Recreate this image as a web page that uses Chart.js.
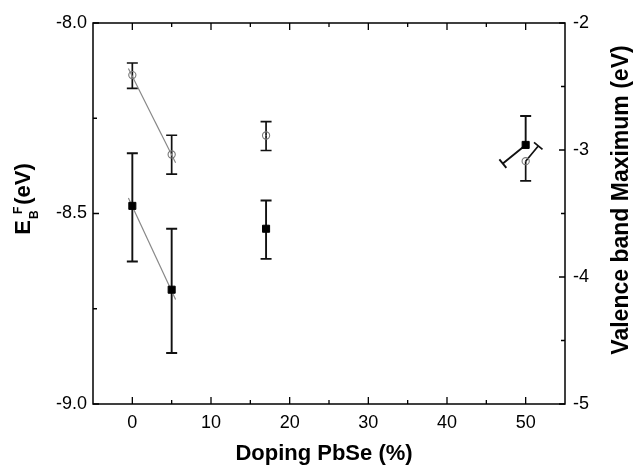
<!DOCTYPE html>
<html>
<head>
<meta charset="utf-8">
<script src="https://cdn.jsdelivr.net/npm/chart.js@4.4.1/dist/chart.umd.min.js"></script>
<style>
  html, body { margin: 0; padding: 0; background: #fff; }
  #wrap { width: 635px; height: 465px; position: relative; }
</style>
</head>
<body>
<div id="wrap"><canvas id="chart"></canvas></div>
<script>
// --- data ---
const doping = [0, 5, 17, 50];

// filled squares: E_B^F (left axis)
const ebf = [-8.48, -8.70, -8.54, -8.32];
const ebfErrHi = [-8.342, -8.54, -8.466, -8.244];
const ebfErrLo = [-8.626, -8.866, -8.619, -8.369];
const ebfErrLoX = [0, 5, 17, 47.1]; // the last lower bar is tilted in the original

// open circles: valence band maximum (right axis)
const vbm = [-2.41, -3.035, -2.886, -3.088];
const vbmErrHi = [-2.315, -2.884, -2.776, -2.968];
const vbmErrHiX = [0, 5, 17, 51.6]; // tilted upper bar at 50 %
const vbmErrLo = [-2.514, -3.19, -3.004, -3.243];

// thin grey guide lines
const ebfFitX = [-0.5, 5.5];
const ebfFitY = [-8.459, -8.726];
const vbmFitX = [-0.5, 5.5];
const vbmFitY = [-2.359, -3.101];

// ticks
const xTicks = [0, 10, 20, 30, 40, 50];
const xMinor = [5, 15, 25, 35, 45];
const yTicks = [-9, -8.5, -8];
const yMinor = [-8.75, -8.25];
const y2Ticks = [-5, -4, -3, -2];
const y2Minor = [-4.5, -3.5, -2.5];

const FONT = '"Liberation Sans", Arial, Helvetica, sans-serif';

const toPoints = (xs, ys) => xs.map((x, i) => ({ x: x, y: ys[i] }));

// --- error bars (drawn under the markers) ---
const errorBars = {
  id: 'errorBars',
  beforeDatasetsDraw(chart) {
    const { ctx, scales } = chart;
    const xs = scales.x;
    const drawBar = (ys, x0, y0, x1, y1, width) => {
      const ax = xs.getPixelForValue(x0), ay = ys.getPixelForValue(y0);
      const bx = xs.getPixelForValue(x1), by = ys.getPixelForValue(y1);
      const len = Math.hypot(bx - ax, by - ay) || 1;
      const nx = -(by - ay) / len * 5.5, ny = (bx - ax) / len * 5.5;
      ctx.lineWidth = width;
      ctx.beginPath();
      ctx.moveTo(ax, ay);
      ctx.lineTo(bx, by);
      ctx.moveTo(bx - nx, by - ny);
      ctx.lineTo(bx + nx, by + ny);
      ctx.stroke();
    };
    ctx.save();
    ctx.strokeStyle = '#111';
    doping.forEach((d, i) => {
      drawBar(scales.y, d, ebf[i], d, ebfErrHi[i], 1.9);
      drawBar(scales.y, d, ebf[i], ebfErrLoX[i], ebfErrLo[i], 1.9);
      drawBar(scales.y2, d, vbm[i], vbmErrHiX[i], vbmErrHi[i], 1.7);
      drawBar(scales.y2, d, vbm[i], d, vbmErrLo[i], 1.7);
    });
    ctx.restore();
  }
};

// --- frame, inward ticks and axis titles ---
const frame = {
  id: 'frame',
  afterDraw(chart) {
    const { ctx, chartArea: a, scales } = chart;
    ctx.save();
    ctx.strokeStyle = '#000';
    ctx.lineWidth = 1.5;
    ctx.strokeRect(a.left, a.top, a.right - a.left, a.bottom - a.top);

    ctx.lineWidth = 1.3;
    ctx.beginPath();
    const vTicks = (vals, len) => vals.forEach(v => {
      const px = scales.x.getPixelForValue(v);
      ctx.moveTo(px, a.bottom); ctx.lineTo(px, a.bottom - len);
      ctx.moveTo(px, a.top); ctx.lineTo(px, a.top + len);
    });
    vTicks(xTicks, 7);
    vTicks(xMinor, 4);
    const lTicks = (vals, len) => vals.forEach(v => {
      const py = scales.y.getPixelForValue(v);
      ctx.moveTo(a.left, py); ctx.lineTo(a.left + len, py);
    });
    lTicks(yTicks, 6);
    lTicks(yMinor, 4);
    const rTicks = (vals, len) => vals.forEach(v => {
      const py = scales.y2.getPixelForValue(v);
      ctx.moveTo(a.right, py); ctx.lineTo(a.right - len, py);
    });
    rTicks(y2Ticks, 6);
    rTicks(y2Minor, 4);
    ctx.stroke();

    ctx.fillStyle = '#000';
    // x title
    ctx.font = 'bold 22px ' + FONT;
    ctx.textAlign = 'center';
    ctx.textBaseline = 'alphabetic';
    ctx.fillText('Doping PbSe (%)', (a.left + a.right) / 2 - 5, 460);

    // right title
    ctx.save();
    ctx.translate(628, 200);
    ctx.rotate(-Math.PI / 2);
    ctx.font = 'bold 23px ' + FONT;
    ctx.fillText('Valence band Maximum (eV)', 0, 0);
    ctx.restore();

    // left title: E_B^F(eV)
    ctx.save();
    ctx.translate(30, 199);
    ctx.rotate(-Math.PI / 2);
    ctx.textAlign = 'left';
    ctx.font = 'bold 22px ' + FONT;
    const wE = ctx.measureText('E').width;
    const wP = ctx.measureText('(eV)').width;
    ctx.font = 'bold 12px ' + FONT;
    const wB = ctx.measureText('B').width;
    const wF = ctx.measureText('F').width;
    const wS = Math.max(wB + 1, wF + 6) + 2;
    const start = -(wE + wS + wP) / 2;
    ctx.font = 'bold 22px ' + FONT;
    ctx.fillText('E', start, 0);
    ctx.fillText('(eV)', start + wE + wS, 0);
    ctx.font = 'bold 12px ' + FONT;
    ctx.fillText('B', start + wE + 1, 8);
    ctx.fillText('F', start + wE + 6, -8);
    ctx.restore();

    ctx.restore();
  }
};

const tickFont = { family: FONT, size: 18 };

new Chart(document.getElementById('chart'), {
  type: 'scatter',
  data: {
    datasets: [
      {
        label: 'E_B^F',
        data: toPoints(doping, ebf),
        yAxisID: 'y',
        pointStyle: 'rect',
        pointRadius: 5,
        pointBackgroundColor: '#000',
        pointBorderColor: '#000',
        pointBorderWidth: 1,
        showLine: false
      },
      {
        label: 'VBM',
        data: toPoints(doping, vbm),
        yAxisID: 'y2',
        pointStyle: 'circle',
        pointRadius: 3.6,
        pointBackgroundColor: 'rgba(255,255,255,0)',
        pointBorderColor: '#777',
        pointBorderWidth: 1.1,
        showLine: false
      },
      {
        label: 'E_B^F guide',
        data: toPoints(ebfFitX, ebfFitY),
        yAxisID: 'y',
        showLine: true,
        borderColor: '#888',
        borderWidth: 1.2,
        pointRadius: 0
      },
      {
        label: 'VBM guide',
        data: toPoints(vbmFitX, vbmFitY),
        yAxisID: 'y2',
        showLine: true,
        borderColor: '#888',
        borderWidth: 1.2,
        pointRadius: 0
      }
    ]
  },
  options: {
    responsive: true,
    maintainAspectRatio: false,
    animation: false,
    layout: { padding: { top: 23, left: 0, right: 0, bottom: 0 } },
    plugins: {
      legend: { display: false },
      tooltip: { enabled: false }
    },
    scales: {
      x: {
        type: 'linear',
        position: 'bottom',
        min: -5,
        max: 55,
        grid: { display: false, drawTicks: false },
        border: { display: false },
        afterBuildTicks: s => { s.ticks = xTicks.map(v => ({ value: v })); },
        afterFit: s => { s.height = 61; },
        ticks: { color: '#000', font: tickFont, padding: 8, maxRotation: 0 }
      },
      y: {
        type: 'linear',
        position: 'left',
        min: -9,
        max: -8,
        grid: { display: false, drawTicks: false },
        border: { display: false },
        afterBuildTicks: s => { s.ticks = yTicks.map(v => ({ value: v })); },
        afterFit: s => { s.width = 93; },
        ticks: { color: '#000', font: tickFont, padding: 6, callback: v => v.toFixed(1) }
      },
      y2: {
        type: 'linear',
        position: 'right',
        min: -5,
        max: -2,
        grid: { display: false, drawTicks: false },
        border: { display: false },
        afterBuildTicks: s => { s.ticks = y2Ticks.map(v => ({ value: v })); },
        afterFit: s => { s.width = 70; },
        ticks: { color: '#000', font: tickFont, padding: 8, callback: v => String(v) }
      }
    }
  },
  plugins: [errorBars, frame]
});
</script>
</body>
</html>
